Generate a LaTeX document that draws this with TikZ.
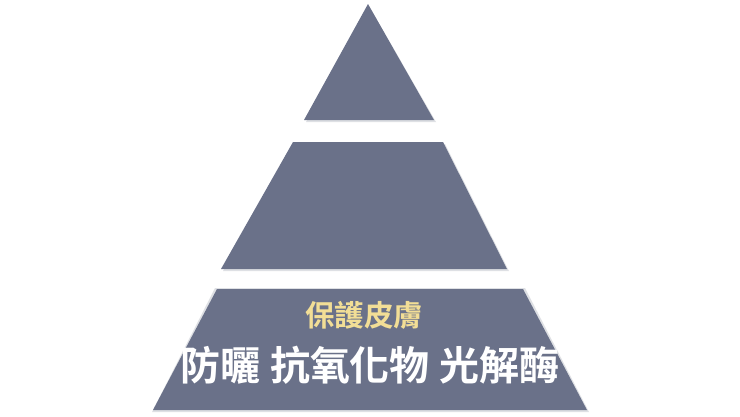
\documentclass[tikz,border=0pt]{standalone}
\usepackage{fontspec}
\newfontfamily\cjkb{Noto Sans CJK TC Bold}
\definecolor{tierfill}{HTML}{6A7189}
\definecolor{goldtxt}{HTML}{F2DE96}
\definecolor{shadowc}{HTML}{B8BBC4}
\begin{document}
\begin{tikzpicture}[x=1pt,y=-1pt,
  tier/.style={fill=tierfill},
  tiershadow/.style={fill=shadowc,opacity=0.45},
  goldlabel/.style={font=\cjkb\fontsize{29.5}{34}\selectfont,text=goldtxt,inner sep=0},
  whitelabel/.style={font=\cjkb\fontsize{40}{46}\selectfont,text=white,inner sep=0}]
\useasboundingbox (0,0) rectangle (740,416);
\fill[white] (0,0) rectangle (740,416);
% shadows
\fill[tiershadow] (369,6) -- (436,122) -- (306,122) -- cycle;
\fill[tiershadow] (294,144) -- (445,144) -- (509,271) -- (223,271) -- cycle;
\fill[tiershadow] (215,288) -- (525,288) -- (589,412) -- (152,412) -- cycle;
% tiers
\fill[tier] (368,4) -- (434,120) -- (304,120) -- cycle;
\fill[tier] (293,142) -- (443,142) -- (507,269) -- (221,269) -- cycle;
\fill[tier] (217,289) -- (523,289) -- (587,410) -- (153,410) -- cycle;
% texts
\node[goldlabel] (lbltop) at (364,315) {保護皮膚};
\node[whitelabel] (lblmain) at (370,365) {防曬 抗氧化物 光解酶};
\end{tikzpicture}
\end{document}
